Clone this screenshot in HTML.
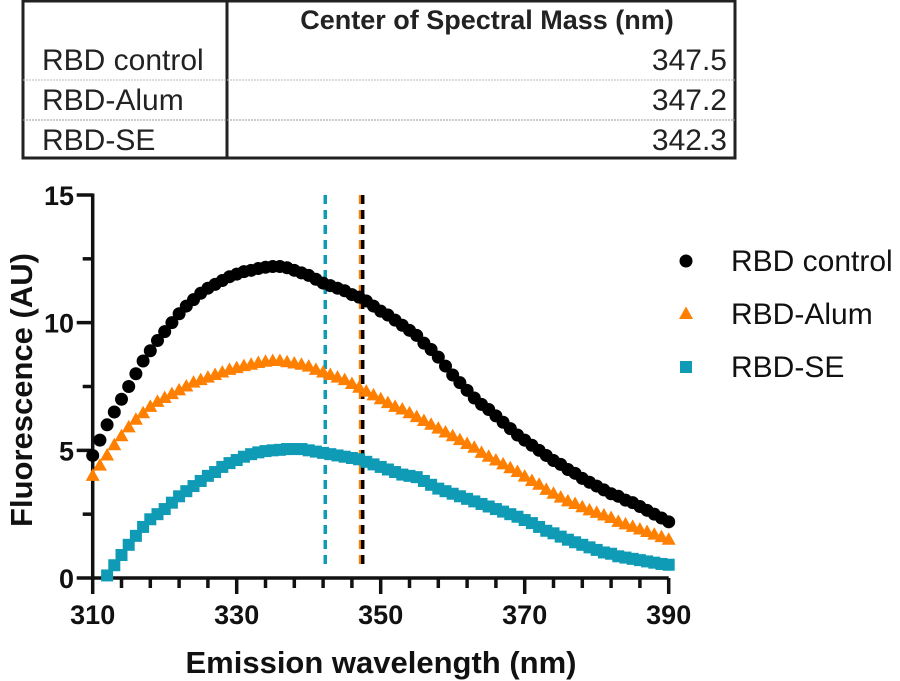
<!DOCTYPE html>
<html><head><meta charset="utf-8"><style>
html,body{margin:0;padding:0;background:#fff;}
svg{display:block;font-family:"Liberation Sans",Arial,sans-serif;}
</style></head><body>
<svg id="chart" width="900" height="681" viewBox="0 0 900 681">
<g>
  <rect x="23" y="1" width="712" height="157" fill="none" stroke="#222" stroke-width="3"/>
  <line x1="227" y1="1" x2="227" y2="158" stroke="#222" stroke-width="3"/>
  <line x1="23" y1="80" x2="735" y2="80" stroke="#bbb" stroke-width="1" stroke-dasharray="2,1"/>
  <line x1="23" y1="120" x2="735" y2="120" stroke="#999" stroke-width="1" stroke-dasharray="2,1"/>
  <text x="487" y="29" font-size="27" font-weight="bold" text-anchor="middle" fill="#222">Center of Spectral Mass (nm)</text>
  <text x="42" y="70" font-size="30" fill="#222">RBD control</text>
  <text x="42" y="110" font-size="30" fill="#222">RBD-Alum</text>
  <text x="42" y="150" font-size="30" fill="#222">RBD-SE</text>
  <text x="727" y="70" font-size="30" fill="#222" text-anchor="end">347.5</text>
  <text x="727" y="110" font-size="30" fill="#222" text-anchor="end">347.2</text>
  <text x="727" y="150" font-size="30" fill="#222" text-anchor="end">342.3</text>
</g>
<g id="plot"></g>
<text x="381" y="673" font-size="31" font-weight="bold" text-anchor="middle" fill="#111">Emission wavelength (nm)</text>
<text transform="translate(32,390) rotate(-90)" font-size="31" font-weight="bold" text-anchor="middle" fill="#111">Fluorescence (AU)</text>
</svg>
<script>
const xStart = 310;
const controlValues = [4.8,5.4,6.0,6.5,7.0,7.5,8.0,8.5,8.9,9.3,9.65,10.0,10.35,10.65,10.9,11.15,11.35,11.5,11.65,11.8,11.9,12.0,12.05,12.12,12.17,12.2,12.2,12.15,12.05,11.95,11.85,11.7,11.55,11.45,11.35,11.25,11.1,11.0,10.85,10.65,10.45,10.3,10.1,9.9,9.7,9.5,9.2,8.95,8.65,8.3,7.95,7.65,7.35,7.05,6.8,6.6,6.35,6.1,5.85,5.6,5.4,5.2,5.0,4.8,4.6,4.45,4.25,4.1,3.9,3.75,3.6,3.45,3.3,3.2,3.05,2.95,2.8,2.65,2.5,2.35,2.2];
const alumValues = [4.0,4.4,4.8,5.2,5.55,5.9,6.2,6.45,6.7,6.9,7.05,7.2,7.35,7.5,7.65,7.75,7.85,7.95,8.05,8.15,8.22,8.3,8.35,8.42,8.47,8.5,8.5,8.45,8.4,8.35,8.28,8.15,8.05,7.95,7.85,7.75,7.6,7.45,7.3,7.15,7.0,6.85,6.7,6.6,6.45,6.3,6.15,6.0,5.85,5.7,5.55,5.4,5.25,5.1,4.9,4.75,4.6,4.45,4.3,4.15,3.97,3.8,3.65,3.45,3.3,3.15,3.0,2.9,2.77,2.65,2.55,2.45,2.35,2.2,2.1,2.0,1.9,1.8,1.7,1.6,1.5];
const seStart = 312;
const seValues = [0.1,0.5,0.9,1.3,1.65,2.0,2.3,2.5,2.7,2.95,3.2,3.4,3.6,3.8,4.0,4.15,4.35,4.5,4.62,4.75,4.85,4.92,4.97,5.0,5.02,5.05,5.05,5.05,5.0,4.95,4.9,4.85,4.8,4.75,4.7,4.65,4.55,4.45,4.35,4.25,4.15,4.05,4.0,3.95,3.8,3.65,3.5,3.4,3.3,3.2,3.1,3.0,2.9,2.8,2.7,2.6,2.5,2.4,2.27,2.15,2.0,1.85,1.75,1.62,1.5,1.4,1.3,1.2,1.1,1.0,0.95,0.85,0.8,0.75,0.7,0.65,0.6,0.55,0.52];
const centerValues = [342.3,347.2,347.5];
const xTicks = [310,330,350,370,390];
const yTicks = [0,5,10,15];
const seriesNames = ["RBD control","RBD-Alum","RBD-SE"];

const X0=92.7,X1=668.7,Y0=578,Y1=195;
const xs=v=>X0+(v-310)/(390-310)*(X1-X0);
const ys=v=>Y0-(v-0)/15*(Y0-Y1);
const NS="http://www.w3.org/2000/svg";
const plot=document.getElementById('plot');
function mk(tag,attrs,parent){const e=document.createElementNS(NS,tag);for(const k in attrs)e.setAttribute(k,attrs[k]);(parent||plot).appendChild(e);return e;}
const colors=["#000000","#ff8000","#0f9bb5"];
const lineCols=["#0f9bb5","#ff8000","#000000"];
[0,1,2].forEach(i=>{
  const cx=xs(centerValues[i]);
  const l=mk('line',{x1:cx,x2:cx,y1:Y1,y2:Y0-10,stroke:lineCols[i],'stroke-width':3.5,'stroke-dasharray':'9,6'});
  
  
});
const ax=mk('line',{x1:X0,y1:Y0,x2:X1,y2:Y0,stroke:'#111','stroke-width':3.5});


const ay=mk('line',{x1:X0,y1:Y1-1.5,x2:X0,y2:Y0+1.5,stroke:'#111','stroke-width':3.5});


for(let v=310;v<=390;v+=4){const major=(v-310)%20===0;const t=mk('line',{x1:xs(v),x2:xs(v),y1:Y0,y2:Y0+(major?16:10),stroke:'#111','stroke-width':3.5});

}
for(let v=0;v<=15;v+=2.5){const major=v%5===0;const t=mk('line',{x1:X0-(major?16:10),x2:X0,y1:ys(v),y2:ys(v),stroke:'#111','stroke-width':3.5});

}
xTicks.forEach(v=>{const t=mk('text',{x:xs(v),y:624,'font-size':27,'font-weight':'bold','text-anchor':'middle',fill:'#111'});t.textContent=v;

});
yTicks.forEach(v=>{const t=mk('text',{x:74,y:ys(v)+10,'font-size':27,'font-weight':'bold','text-anchor':'end',fill:'#111'});t.textContent=v;

});
function marker(type,x,y,c,g){
  let e;
  if(type===0)e=mk('circle',{cx:x,cy:y,r:6.5,fill:c},g);
  else if(type===1)e=mk('polygon',{points:`${x},${y-7.5} ${x-7},${y+5} ${x+7},${y+5}`,fill:c},g);
  else e=mk('rect',{x:x-6,y:y-6,width:12,height:12,fill:c},g);
  return e;
}
const seriesData=[[xStart,controlValues],[xStart,alumValues],[seStart,seValues]];
[2,1,0].forEach(s=>{
  const g=mk('g',{});
  
  
  const [st,vals]=seriesData[s];
  vals.forEach((v,i)=>{const m=marker(s,xs(st+i),ys(v),colors[s],g);
  
  });
});
const legY=[261,314,367];
seriesNames.forEach((n,i)=>{
  const g=mk('g',{});
  
  
  marker(i,686,legY[i],colors[i],g);
  const t=mk('text',{x:731,y:legY[i]+10,'font-size':30,fill:'#111'},g);t.textContent=n;
});
</script>
</body></html>
